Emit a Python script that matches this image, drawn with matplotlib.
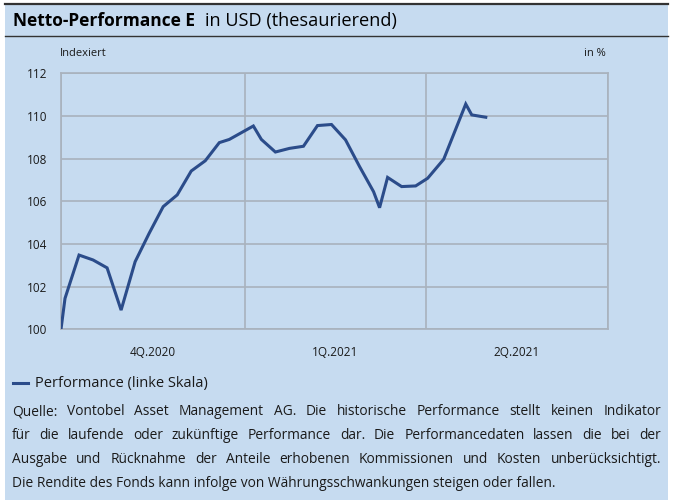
import matplotlib
matplotlib.use('Agg')
import matplotlib.pyplot as plt
import pandas as pd
from matplotlib.patches import Rectangle
from matplotlib.lines import Line2D

BG_COLOR = '#c6dbf0'
LINE_COLOR = '#2b4c8a'
GRID_COLOR = '#a9b2bd'
FRAME_COLOR = '#333333'
TEXT_COLOR = '#1a1a1a'
FONT = ['Open Sans', 'DejaVu Sans']

# weekly index values (start = 100)
dates = ['2020-09-30', '2020-10-02', '2020-10-09', '2020-10-16', '2020-10-23',
         '2020-10-30', '2020-11-06', '2020-11-13', '2020-11-20', '2020-11-27',
         '2020-12-04', '2020-12-11', '2020-12-18', '2020-12-23', '2021-01-04',
         '2021-01-08', '2021-01-15', '2021-01-22', '2021-01-29', '2021-02-05',
         '2021-02-12', '2021-02-19', '2021-02-26', '2021-03-05', '2021-03-08',
         '2021-03-12', '2021-03-19', '2021-03-26', '2021-04-01', '2021-04-09',
         '2021-04-20', '2021-04-23', '2021-04-30']
perf = [100.0, 101.45, 103.48, 103.25, 102.88,
        100.9, 103.17, 104.5, 105.75, 106.3,
        107.42, 107.9, 108.75, 108.9, 109.53,
        108.9, 108.31, 108.48, 108.58, 109.55,
        109.6, 108.88, 107.63, 106.45, 105.7,
        107.12, 106.69, 106.72, 107.08, 107.97,
        110.56, 110.05, 109.94]

quarter_edges = ['2020-09-30', '2020-12-31', '2021-03-31', '2021-06-30']
quarter_labels = ['4Q.2020', '1Q.2021', '2Q.2021']
y_ticks = [100, 102, 104, 106, 108, 110, 112]

title_bold = 'Netto-Performance E'
title_rest = 'in USD (thesaurierend)'
legend_label = 'Performance (linke Skala)'
footer_lines = [
    'Quelle: Vontobel Asset Management AG. Die historische Performance stellt keinen Indikator',
    'für die laufende oder zukünftige Performance dar. Die Performancedaten lassen die bei der',
    'Ausgabe und Rücknahme der Anteile erhobenen Kommissionen und Kosten unberücksichtigt.',
    'Die Rendite des Fonds kann infolge von Währungsschwankungen steigen oder fallen.',
]

W, H = 673, 500
fig = plt.figure(figsize=(W / 100, H / 100), dpi=100)
fig.patch.set_facecolor('white')
renderer = fig.canvas.get_renderer()


def fx(px):
    return px / W


def fy(py):
    return 1 - py / H


def fit_size(text, target_px, **kw):
    # font size so that text is target_px wide
    tmp = fig.text(0, 0, text, fontsize=10, family=FONT, **kw)
    w = tmp.get_window_extent(renderer).width
    tmp.remove()
    return 10 * target_px / w


# blue panel with title band
fig.patches.append(Rectangle((fx(5), 0), fx(663), fy(3.5), transform=fig.transFigure,
                             facecolor=BG_COLOR, edgecolor='none', zorder=0))
fig.lines.append(Line2D([fx(5), fx(668)], [fy(3.5), fy(3.5)], transform=fig.transFigure,
                        color=FRAME_COLOR, linewidth=1.6))
fig.lines.append(Line2D([fx(5), fx(668)], [fy(35.5), fy(35.5)], transform=fig.transFigure,
                        color=FRAME_COLOR, linewidth=1.0))

bold_size = fit_size(title_bold, 183, fontweight='bold')
rest_size = fit_size(title_rest, 192)
fig.text(fx(13), fy(26), title_bold, fontsize=bold_size, fontweight='bold',
         family=FONT, va='baseline', ha='left', color='black')
fig.text(fx(205), fy(26), title_rest, fontsize=rest_size, family=FONT,
         va='baseline', ha='left', color='black')

# chart area
ax = fig.add_axes([fx(61), fy(329.3), fx(547), (329.3 - 73.3) / H])
ax.set_zorder(2)
ax.set_facecolor(BG_COLOR)
x = pd.to_datetime(dates)
ax.plot(x, perf, color=LINE_COLOR, linewidth=2.2, solid_joinstyle='miter', zorder=3)

edges = pd.to_datetime(quarter_edges)
ax.set_xlim(edges[0], edges[-1])
ax.set_ylim(y_ticks[0], y_ticks[-1])
ax.set_yticks(y_ticks)
ax.set_xticks(edges)
ax.set_xticklabels([])
mids = [edges[i] + (edges[i + 1] - edges[i]) / 2 for i in range(len(quarter_labels))]
ax.set_xticks(mids, minor=True)
ax.set_xticklabels(quarter_labels, minor=True)
ax.tick_params(axis='both', which='both', length=0)
ax.tick_params(axis='y', pad=10, labelsize=8.5, labelcolor=TEXT_COLOR)
ax.tick_params(axis='x', which='minor', pad=12, labelsize=8.5, labelcolor=TEXT_COLOR)
for lab in ax.get_yticklabels() + ax.get_xticklabels(minor=True):
    lab.set_family(FONT)
ax.grid(True, which='major', color=GRID_COLOR, linewidth=1.2)
for sp in ax.spines.values():
    sp.set_color(GRID_COLOR)
    sp.set_linewidth(1.2)

fig.text(fx(60), fy(53), 'Indexiert', fontsize=8, family=FONT, va='center', ha='left',
         color=TEXT_COLOR)
fig.text(fx(606), fy(53), 'in %', fontsize=8, family=FONT, va='center', ha='right',
         color=TEXT_COLOR)

# legend
fig.lines.append(Line2D([fx(13), fx(28)], [fy(383), fy(383)], transform=fig.transFigure,
                        color=LINE_COLOR, linewidth=2.2))
leg_size = fit_size(legend_label, 172)
fig.text(fx(35), fy(387), legend_label, fontsize=leg_size, family=FONT, va='baseline',
         ha='left', color=TEXT_COLOR)

# footer, justified
foot_size = fit_size(footer_lines[-1], 545)
line_y = [415, 439, 463, 487]
x0, x1 = 12, 661
for i, (line, ypos) in enumerate(zip(footer_lines, line_y)):
    if i == len(footer_lines) - 1:
        fig.text(fx(x0), fy(ypos), line, fontsize=foot_size, family=FONT,
                 va='baseline', ha='left', color=TEXT_COLOR)
        continue
    words = line.split(' ')
    objs = []
    widths = []
    for w in words:
        o = fig.text(0, fy(ypos), w, fontsize=foot_size, family=FONT,
                     va='baseline', ha='left', color=TEXT_COLOR)
        objs.append(o)
        widths.append(o.get_window_extent(renderer).width)
    gap = (x1 - x0 - sum(widths)) / (len(words) - 1)
    cur = x0
    for o, wd in zip(objs, widths):
        o.set_x(fx(cur))
        cur += wd + gap

fig.savefig('out.png', dpi=100, facecolor=fig.get_facecolor())
